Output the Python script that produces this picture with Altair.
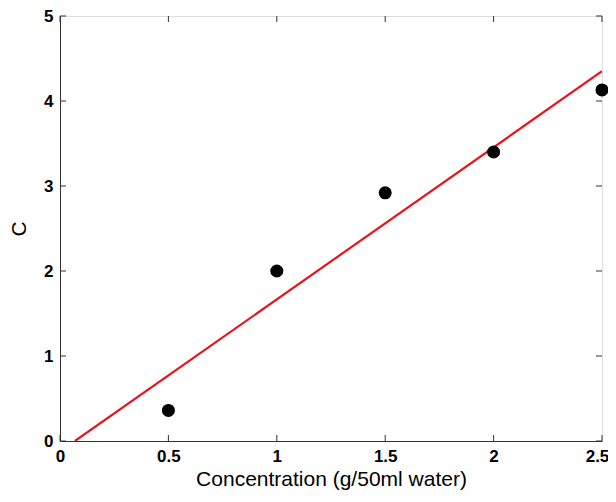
import altair as alt
import pandas as pd

conc = [0.5, 1.0, 1.5, 2.0, 2.5]
c_vals = [0.36, 2.0, 2.92, 3.4, 4.13]
fit_x = [0.069, 2.5]
fit_y = [0.0, 4.35]
x_ticks = [0, 0.5, 1, 1.5, 2, 2.5]
y_ticks = [0, 1, 2, 3, 4, 5]

pts = pd.DataFrame({"x": conc, "y": c_vals})
fit = pd.DataFrame({"x": fit_x, "y": fit_y})
xt = pd.DataFrame({"x": x_ticks})
yt = pd.DataFrame({"y": y_ticks})

W, H = 542, 425
FONT = "Liberation Sans"

xscale = alt.Scale(domain=[0, 2.5], nice=False, zero=False)
yscale = alt.Scale(domain=[0, 5], nice=False, zero=False)

xaxis = alt.Axis(values=x_ticks, title="Concentration (g/50ml water)", grid=False,
                 tickSize=0, labelPadding=7, labelFontSize=17, labelFont=FONT,
                 labelFontWeight="bold", labelColor="#000", titleFont=FONT,
                 titleFontSize=21, titleFontWeight="normal", titleColor="#000",
                 titlePadding=4, domainColor="#333", labelFlush=False,
                 labelExpr="datum.value",
                 labelOffset={"condition": {"test": "datum.value == 2.5", "value": -5},
                              "value": 0})
yaxis = alt.Axis(values=y_ticks, title="C", grid=False, tickSize=0, labelPadding=7,
                 labelFontSize=17, labelFont=FONT, labelFontWeight="bold",
                 labelColor="#000", titleFont=FONT, titleFontSize=21,
                 titleFontWeight="normal", titleColor="#000", titlePadding=14,
                 domainColor="#333", labelFlush=False, labelExpr="datum.value")

line = alt.Chart(fit).mark_line(color="#e8141c", strokeWidth=2.2, clip=True).encode(
    x=alt.X("x:Q", scale=xscale, axis=xaxis),
    y=alt.Y("y:Q", scale=yscale, axis=yaxis),
)
dots = alt.Chart(pts).mark_circle(color="#000", size=170, opacity=1).encode(
    x=alt.X("x:Q", scale=xscale), y=alt.Y("y:Q", scale=yscale)
)
tb = alt.Chart(xt).mark_rule(color="#333").encode(
    x=alt.X("x:Q", scale=xscale), y=alt.value(H), y2=alt.value(H - 6))
tt = alt.Chart(xt).mark_rule(color="#333").encode(
    x=alt.X("x:Q", scale=xscale), y=alt.value(0), y2=alt.value(6))
tl = alt.Chart(yt).mark_rule(color="#333").encode(
    y=alt.Y("y:Q", scale=yscale), x=alt.value(0), x2=alt.value(6))
tr = alt.Chart(yt).mark_rule(color="#333").encode(
    y=alt.Y("y:Q", scale=yscale), x=alt.value(W), x2=alt.value(W - 6))

chart = alt.layer(line, tb, tt, tl, tr, dots).properties(
    width=W, height=H,
    autosize=alt.AutoSizeParams(type="none"),
    padding={"left": 52, "top": 8, "right": 6, "bottom": 52},
).configure_view(stroke="#333", strokeWidth=1.2).configure(background="white")

chart.save("out.html", embed_options={"renderer": "svg", "actions": False})
